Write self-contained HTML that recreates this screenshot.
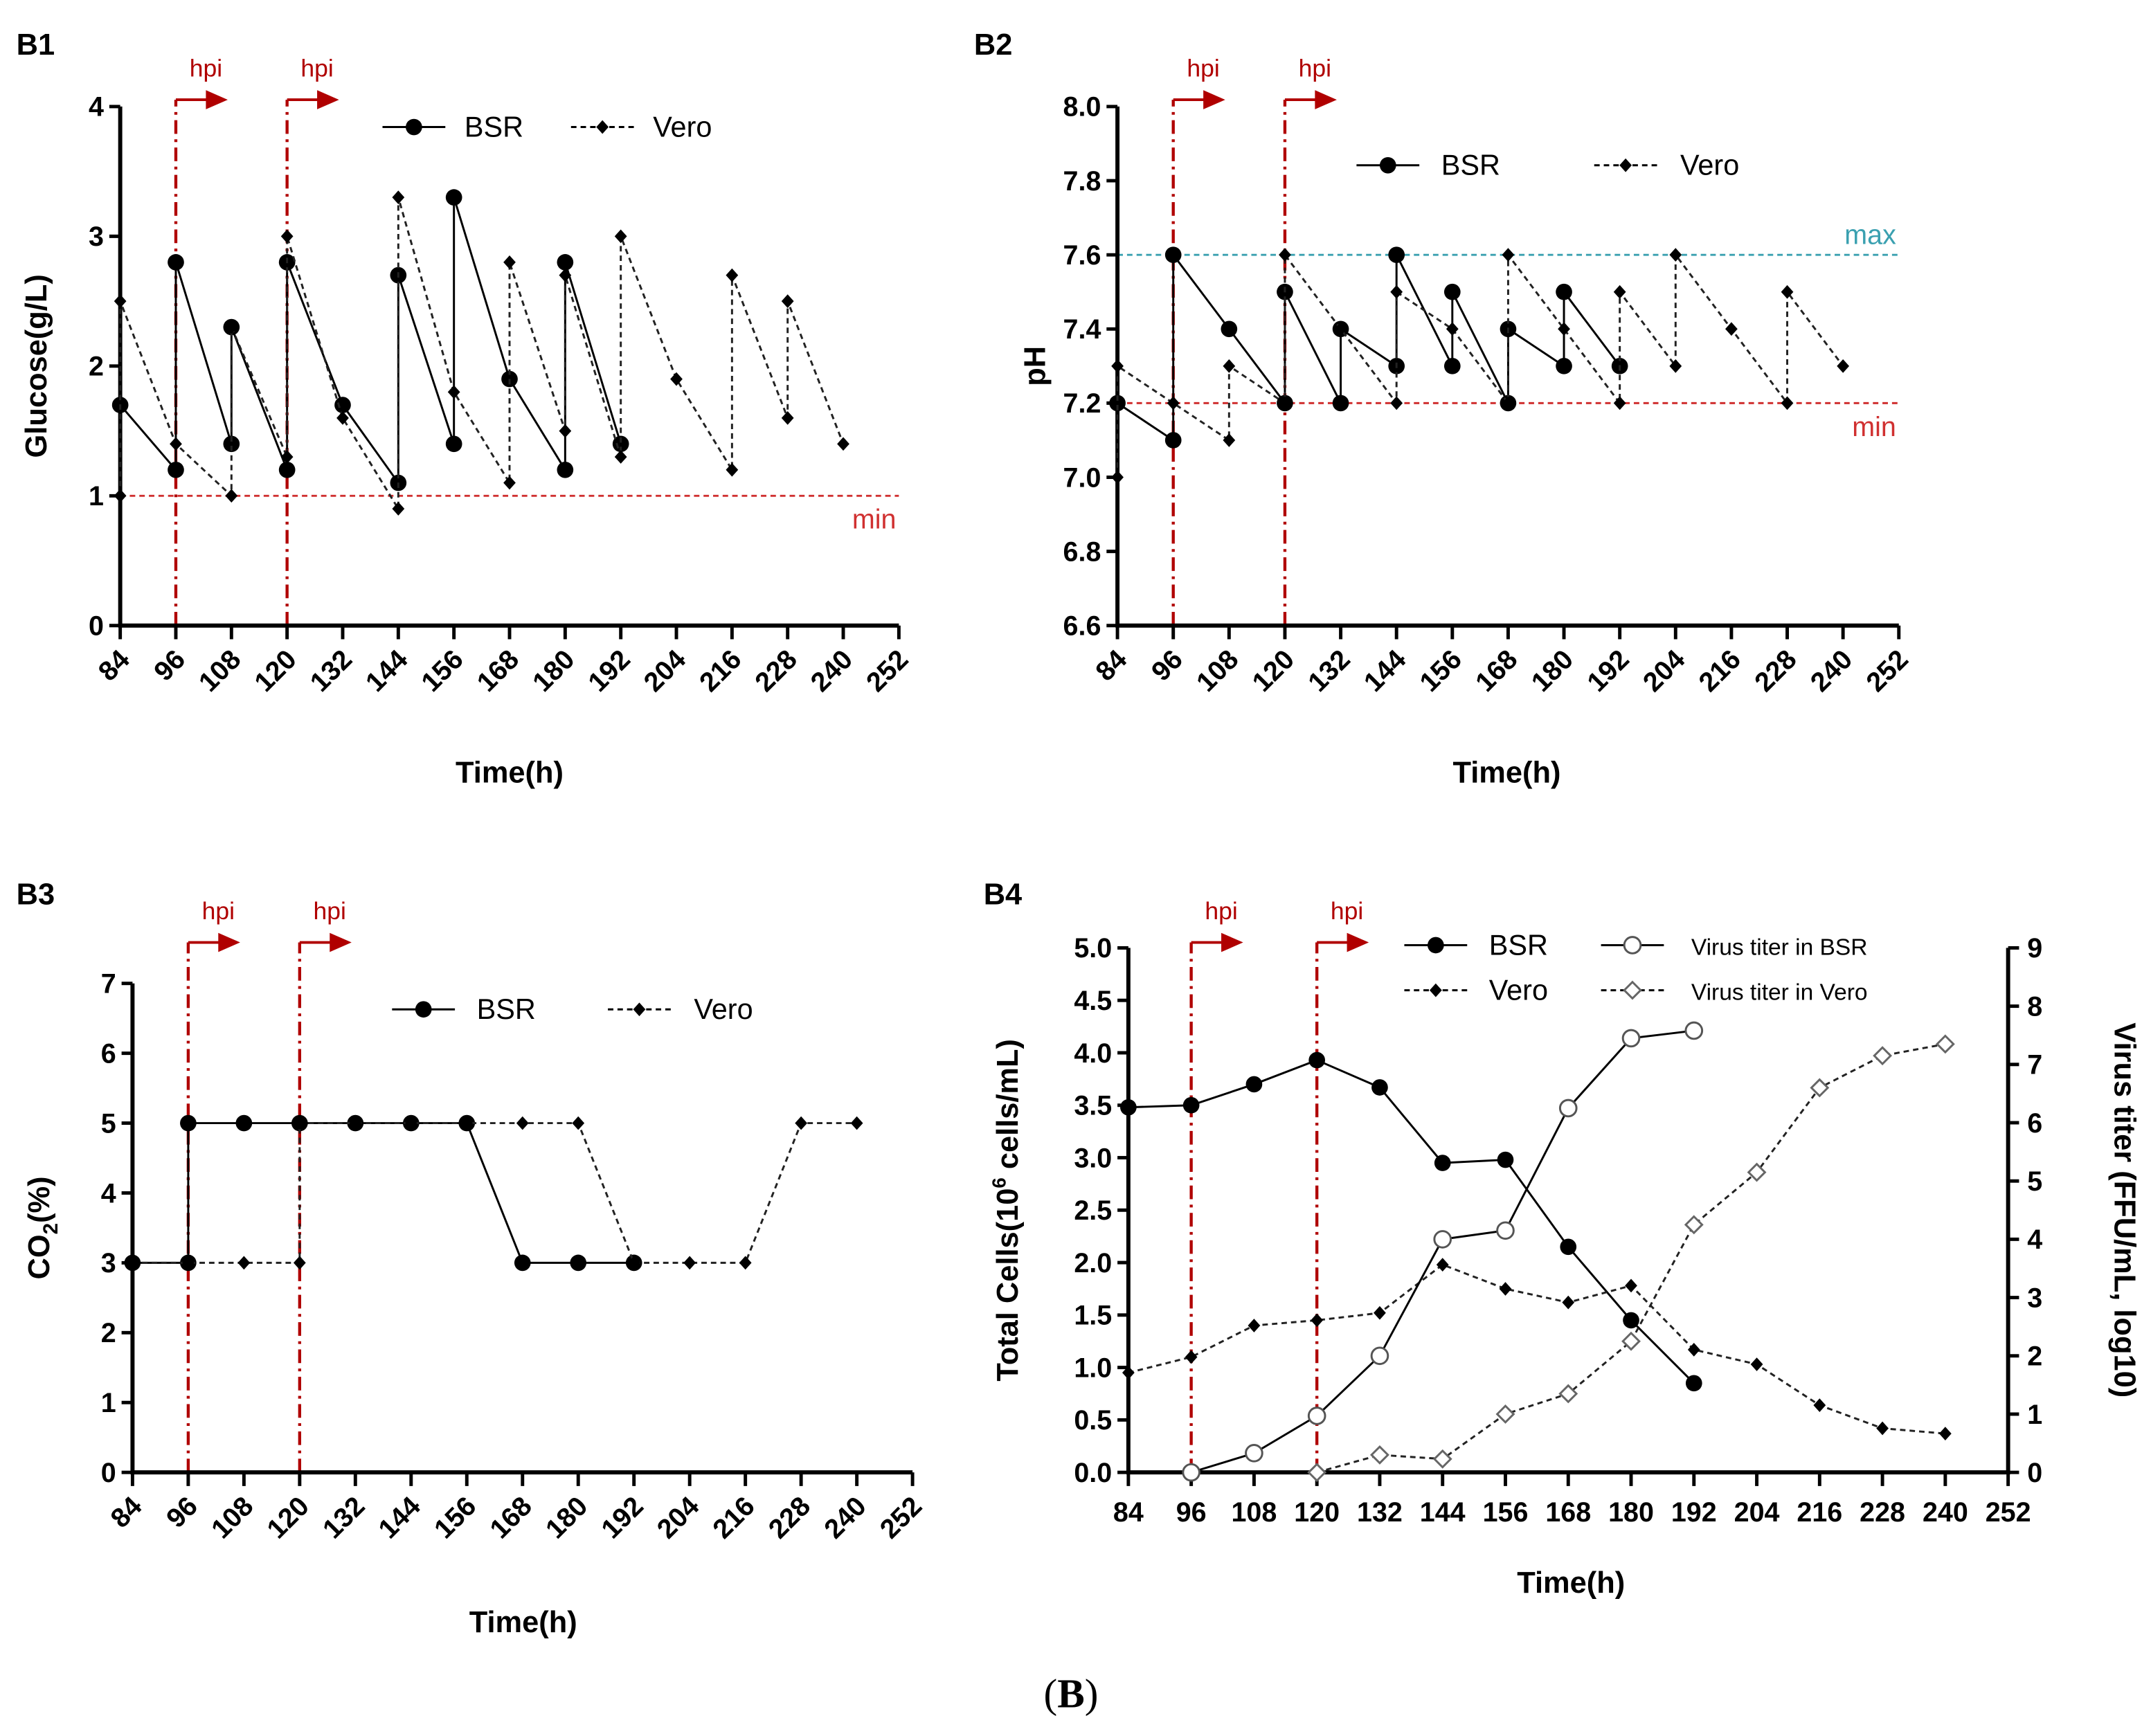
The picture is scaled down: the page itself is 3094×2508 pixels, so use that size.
<!DOCTYPE html>
<html><head><meta charset="utf-8"><style>
html,body{margin:0;padding:0;background:#fff;}
svg{display:block;font-family:"Liberation Sans",Arial,sans-serif;}
</style></head><body>
<svg id="fig" width="3094" height="2508" viewBox="0 0 1568 1271" xmlns="http://www.w3.org/2000/svg">
<text x="784" y="1250" font-family="Liberation Serif" font-size="30" text-anchor="middle">(<tspan font-weight="bold">B</tspan>)</text>
</svg>
<script>
// B1 Glucose
const timesTicks = [84,96,108,120,132,144,156,168,180,192,204,216,228,240,252];
const b1BsrX = [84,96,96,108,108,120,120,132,144,144,156,156,168,180,180,192];
const b1BsrY = [1.7,1.2,2.8,1.4,2.3,1.2,2.8,1.7,1.1,2.7,1.4,3.3,1.9,1.2,2.8,1.4];
const b1VeroX = [84,84,96,108,108,120,120,132,144,144,156,168,168,180,180,192,192,204,216,216,228,228,240];
const b1VeroY = [1.0,2.5,1.4,1.0,2.3,1.3,3.0,1.6,0.9,3.3,1.8,1.1,2.8,1.5,2.7,1.3,3.0,1.9,1.2,2.7,1.6,2.5,1.4];
const b1YTicks = [0,1,2,3,4];
// B2 pH
const b2BsrX = [84,96,96,108,120,120,132,132,144,144,156,156,168,168,180,180,192];
const b2BsrY = [7.2,7.1,7.6,7.4,7.2,7.5,7.2,7.4,7.3,7.6,7.3,7.5,7.2,7.4,7.3,7.5,7.3];
const b2VeroX = [84,84,96,108,108,120,120,132,144,144,156,168,168,180,192,192,204,204,216,228,228,240];
const b2VeroY = [7.0,7.3,7.2,7.1,7.3,7.2,7.6,7.4,7.2,7.5,7.4,7.2,7.6,7.4,7.2,7.5,7.3,7.6,7.4,7.2,7.5,7.3];
const b2YTicks = [6.6,6.8,7.0,7.2,7.4,7.6,7.8,8.0];
// B3 CO2
const b3BsrX = [84,96,96,108,120,132,144,156,168,180,192];
const b3BsrY = [3,3,5,5,5,5,5,5,3,3,3];
const b3VeroX = [84,96,108,120,120,132,144,156,168,180,192,204,216,228,240];
const b3VeroY = [3,3,3,3,5,5,5,5,5,5,3,3,3,5,5];
const b3YTicks = [0,1,2,3,4,5,6,7];
// B4 cells & titer
const b4BsrX = [84,96,108,120,132,144,156,168,180,192];
const b4BsrY = [3.48,3.5,3.7,3.93,3.67,2.95,2.98,2.15,1.45,0.85];
const b4VeroX = [84,96,108,120,132,144,156,168,180,192,204,216,228,240];
const b4VeroY = [0.95,1.1,1.4,1.45,1.52,1.98,1.75,1.62,1.78,1.17,1.03,0.64,0.42,0.37];
const b4TiterBsrX = [96,108,120,132,144,156,168,180,192];
const b4TiterBsrY = [0,0.33,0.97,2.0,4.0,4.15,6.25,7.45,7.58];
const b4TiterVeroX = [120,132,144,156,168,180,192,204,216,228,240];
const b4TiterVeroY = [0,0.3,0.23,1.0,1.35,2.25,4.25,5.15,6.6,7.15,7.35];
const b4YTicks = [0,0.5,1.0,1.5,2.0,2.5,3.0,3.5,4.0,4.5,5.0];
const b4RTicks = [0,1,2,3,4,5,6,7,8,9];

const NS='http://www.w3.org/2000/svg';
const svg=document.getElementById('fig');
function el(tag,attrs,parent,text){const e=document.createElementNS(NS,tag);for(const k in attrs)e.setAttribute(k,attrs[k]);if(text!==undefined)e.textContent=text;(parent||svg).appendChild(e);return e;}

function panel(o){
  const g=el('g',{});
  
  
  const sx=t=>o.x0+(t-84)/(252-84)*(o.x1-o.x0);
  const sy=v=>o.y0-(v-o.vmin)/(o.vmax-o.vmin)*(o.y0-o.y1);
  const lab=el('text',{x:o.lx,y:o.ly,'font-size':22,'font-weight':'bold'},g,o.label);
  
  
  (o.refs||[]).forEach(r=>{
    const l=el('line',{x1:o.x0,x2:o.x1,y1:sy(r.v),y2:sy(r.v),stroke:r.c,'stroke-width':1.5,'stroke-dasharray':'4 3'},g);
    
    
    const t=el('text',{x:o.x1-2,y:sy(r.v)+r.dy,'font-size':20,fill:r.c,'text-anchor':'end'},g,r.t);
    
    
  });
  [96,120].forEach(h=>{
    const X=sx(h);
    const l=el('line',{x1:X,x2:X,y1:o.y0,y2:o.hy,stroke:'#b00000','stroke-width':2.2,'stroke-dasharray':'10 4 2 4'},g);
    
    
    const a=el('path',{d:`M${X} ${o.hy} h24`,stroke:'#b00000','stroke-width':2,fill:'none'},g);
    
    
    el('path',{d:`M${X+22} ${o.hy-7} L${X+38} ${o.hy} L${X+22} ${o.hy+7}Z`,fill:'#b00000'},g);
    const t=el('text',{x:X+22,y:o.hy-17,'font-size':18,fill:'#b00000','text-anchor':'middle'},g,'hpi');
    
    
  });
  const ax=el('path',{d:`M${o.x0} ${o.y1} V${o.y0} H${o.x1}`+(o.right?` V${o.y1}`:''),stroke:'#000','stroke-width':3,fill:'none'},g);
  
  
  o.yt.forEach(v=>{
    el('line',{x1:o.x0-8,x2:o.x0,y1:sy(v),y2:sy(v),stroke:'#000','stroke-width':2.5},g);
    const t=el('text',{x:o.x0-12,y:sy(v)+7,'font-size':20,'font-weight':'bold','text-anchor':'end'},g,o.fmt(v));
    
    
  });
  if(o.right){
    const sr=v=>o.y0-v/9*(o.y0-o.y1);
    b4RTicks.forEach(v=>{
      el('line',{x1:o.x1,x2:o.x1+8,y1:sr(v),y2:sr(v),stroke:'#000','stroke-width':2.5},g);
      const t=el('text',{x:o.x1+14,y:sr(v)+7,'font-size':20,'font-weight':'bold'},g,String(v));
      
      
    });
    o.sr=sr;
  }
  timesTicks.forEach(t=>{
    const X=sx(t);
    el('line',{x1:X,x2:X,y1:o.y0,y2:o.y0+10,stroke:'#000','stroke-width':2.5},g);
    let tx;
    if(o.rot) tx=el('text',{x:X+8,y:o.y0+26,'font-size':20,'font-weight':'bold','text-anchor':'end',transform:`rotate(-45 ${X+8} ${o.y0+26})`},g,String(t));
    else tx=el('text',{x:X,y:o.y0+36,'font-size':20,'font-weight':'bold','text-anchor':'middle'},g,String(t));
    
    
  });
  const xt=el('text',{x:o.xtx,y:o.xty,'font-size':22,'font-weight':'bold','text-anchor':'middle'},g,'Time(h)');
  
  
  const yt=el('text',{x:o.ytx,y:(o.y0+o.y1)/2,'font-size':22,'font-weight':'bold','text-anchor':'middle',transform:`rotate(-90 ${o.ytx} ${(o.y0+o.y1)/2})`},g);
  yt.innerHTML=o.ytitle;
  
  
  if(o.right){
    const rt=el('text',{x:o.rtx,y:(o.y0+o.y1)/2,'font-size':22,'font-weight':'bold','text-anchor':'middle',transform:`rotate(90 ${o.rtx} ${(o.y0+o.y1)/2})`},g,'Virus titer (FFU/mL, log10)');
    
    
  }
  o.series.forEach(s=>{
    const yf=s.right?o.sr:sy;
    const pts=s.x.map((t,i)=>[sx(t),yf(s.y[i])]);
    const p=el('polyline',{points:pts.map(q=>q.join(',')).join(' '),fill:'none',stroke:s.dash?'#222':'#000','stroke-width':1.5,'stroke-dasharray':s.dash?'4 3':'none'},g);
    
    
    pts.forEach(q=>{
      let m;
      if(s.m==='circle') m=el('circle',{cx:q[0],cy:q[1],r:6,fill:'#000'},g);
      else if(s.m==='ocircle') m=el('circle',{cx:q[0],cy:q[1],r:6,fill:'#fff',stroke:'#555','stroke-width':1.5},g);
      else if(s.m==='odiamond') m=el('path',{d:`M${q[0]} ${q[1]-6} L${q[0]+6} ${q[1]} L${q[0]} ${q[1]+6} L${q[0]-6} ${q[1]}Z`,fill:'#fff',stroke:'#666','stroke-width':1.5},g);
      else m=el('path',{d:`M${q[0]} ${q[1]-5} L${q[0]+4.5} ${q[1]} L${q[0]} ${q[1]+5} L${q[0]-4.5} ${q[1]}Z`,fill:'#000'},g);
      
      
    });
  });
  o.legend.forEach(L=>{
    const lg=el('g',{},g);
    
    
    el('line',{x1:L.x,x2:L.x+46,y1:L.y,y2:L.y,stroke:'#000','stroke-width':1.5,'stroke-dasharray':L.dash?'4 3':'none'},lg);
    const cx=L.x+23,cy=L.y;
    if(L.m==='circle') el('circle',{cx,cy,r:6,fill:'#000'},lg);
    else if(L.m==='ocircle') el('circle',{cx,cy,r:6,fill:'#fff',stroke:'#555','stroke-width':1.5},lg);
    else if(L.m==='odiamond') el('path',{d:`M${cx} ${cy-6} L${cx+6} ${cy} L${cx} ${cy+6} L${cx-6} ${cy}Z`,fill:'#fff',stroke:'#666','stroke-width':1.5},lg);
    else el('path',{d:`M${cx} ${cy-5} L${cx+4.5} ${cy} L${cx} ${cy+5} L${cx-4.5} ${cy}Z`,fill:'#000'},lg);
    el('text',{x:L.tx,y:L.y+7,'font-size':L.fs||21},lg,L.t);
  });
}
const f0=v=>String(v), f1=v=>v.toFixed(1);
panel({name:'glucose-panel',label:'B1',lx:12,ly:40,x0:88,x1:658,y0:458,y1:78,vmin:0,vmax:4,yt:b1YTicks,fmt:f0,hy:73,rot:true,
 xtx:373,xty:573,ytx:34,ytitle:'Glucose(g/L)',
 refs:[{v:1,c:'#d03030',t:'min',dy:24}],
 series:[{name:'bsr',x:b1BsrX,y:b1BsrY,m:'circle'},{name:'vero',x:b1VeroX,y:b1VeroY,m:'diamond',dash:true}],
 legend:[{x:280,y:93,m:'circle',t:'BSR',tx:340},{x:418,y:93,m:'diamond',dash:true,t:'Vero',tx:478}]});
panel({name:'ph-panel',label:'B2',lx:713,ly:40,x0:818,x1:1390,y0:458,y1:78,vmin:6.6,vmax:8.0,yt:b2YTicks,fmt:f1,hy:73,rot:true,
 xtx:1103,xty:573,ytx:765,ytitle:'pH',
 refs:[{v:7.6,c:'#3aa0b0',t:'max',dy:-8},{v:7.2,c:'#d03030',t:'min',dy:24}],
 series:[{name:'bsr',x:b2BsrX,y:b2BsrY,m:'circle'},{name:'vero',x:b2VeroX,y:b2VeroY,m:'diamond',dash:true}],
 legend:[{x:993,y:121,m:'circle',t:'BSR',tx:1055},{x:1167,y:121,m:'diamond',dash:true,t:'Vero',tx:1230}]});
panel({name:'co2-panel',label:'B3',lx:12,ly:662,x0:97,x1:668,y0:1078,y1:720,vmin:0,vmax:7,yt:b3YTicks,fmt:f0,hy:690,rot:true,
 xtx:383,xty:1195,ytx:36,ytitle:'CO<tspan font-size="15" dy="6">2</tspan><tspan dy="-6">(%)</tspan>',
 refs:[],
 series:[{name:'bsr',x:b3BsrX,y:b3BsrY,m:'circle'},{name:'vero',x:b3VeroX,y:b3VeroY,m:'diamond',dash:true}],
 legend:[{x:287,y:739,m:'circle',t:'BSR',tx:349},{x:445,y:739,m:'diamond',dash:true,t:'Vero',tx:508}]});
panel({name:'cells-titer-panel',label:'B4',lx:720,ly:662,x0:826,x1:1470,y0:1078,y1:694,vmin:0,vmax:5,yt:b4YTicks,fmt:f1,hy:690,rot:false,right:true,
 xtx:1150,xty:1166,ytx:745,rtx:1548,ytitle:'Total Cells(10<tspan font-size="14" dy="-9">6</tspan><tspan dy="9"> cells/mL)</tspan>',
 refs:[],
 series:[{name:'bsr-cells',x:b4BsrX,y:b4BsrY,m:'circle'},{name:'vero-cells',x:b4VeroX,y:b4VeroY,m:'diamond',dash:true},
  {name:'titer-bsr',x:b4TiterBsrX,y:b4TiterBsrY,m:'ocircle',right:true},{name:'titer-vero',x:b4TiterVeroX,y:b4TiterVeroY,m:'odiamond',dash:true,right:true}],
 legend:[{x:1028,y:692,m:'circle',t:'BSR',tx:1090},{x:1028,y:725,m:'diamond',dash:true,t:'Vero',tx:1090},
  {x:1172,y:692,m:'ocircle',t:'Virus titer in BSR',tx:1238,fs:17},{x:1172,y:725,m:'odiamond',dash:true,t:'Virus titer in Vero',tx:1238,fs:17}]});
</script>
</body></html>
